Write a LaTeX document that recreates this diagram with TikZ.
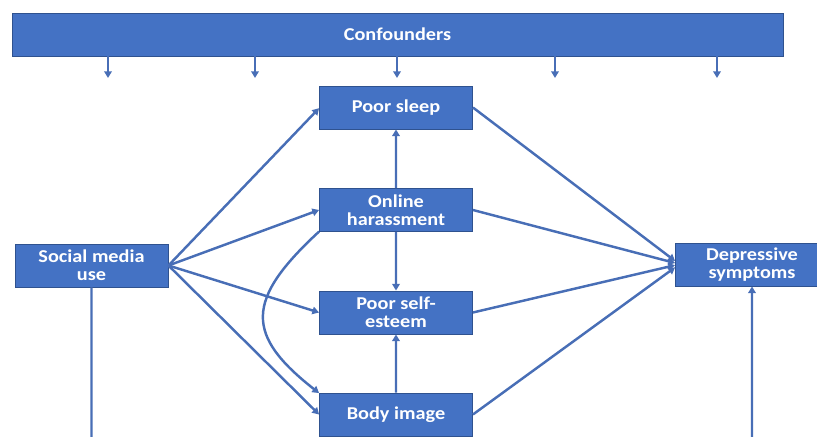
\documentclass[tikz,border=0pt]{standalone}
\usepackage{fontspec}
\setmainfont{Carlito}[FakeStretch=1.12]
\usetikzlibrary{arrows.meta}
\definecolor{boxblue}{RGB}{68,114,196}
\definecolor{boxedge}{RGB}{47,82,143}
\definecolor{linkblue}{RGB}{72,110,182}

\begin{document}
\begin{tikzpicture}[scale=0.2]
\tikzstyle{every node}+=[inner sep=0pt]
\tikzstyle{box}=[draw=boxedge, line width=0.5pt, fill=boxblue, text=white, align=center, minimum width=3.06cm, minimum height=0.86cm, font=\fontsize{10.3}{10.4}\selectfont\bfseries]
\tikzstyle{link}=[linkblue, line width=1.4pt, -{Triangle[length=3.8pt,width=4.3pt]}]
\useasboundingbox (0,0) rectangle (81.7,-43.7);
\draw (39.75,-3.45) node [box, minimum width=15.42cm] (conf) {Confounders};
\draw (9.15,-26.55) node [box] (smu) {Social media\\use};
\draw (39.6,-10.75) node [box] (ps) {Poor sleep};
\draw (39.6,-21) node [box] (oh) {Online\\harassment};
\draw (39.6,-31.25) node [box] (se) {Poor self-\\esteem};
\draw (39.6,-41.45) node [box] (bi) {Body image};
\draw (75.2,-26.45) node [box] (dep) {Depressive\\symptoms};
\foreach \x [count=\i] in {10.8,25.5,39.7,55.5,71.7} {
  \coordinate (c\i) at (\x,-7.8);
  \draw [link] (conf.south -| c\i) -- (c\i);
}
\draw [link] (smu.east) -- ([yshift=-2pt]ps.west);
\draw [link] (smu.east) -- (oh.west);
\draw [link] (smu.east) -- (se.west);
\draw [link] (smu.east) -- (bi.west);
\draw [link] (oh) -- (ps);
\draw [link] (oh) -- (se);
\draw [link] (bi) -- (se);
\draw [link] ([yshift=1pt]oh.south west) .. controls (24.5,-30) and (24.5,-33.5) .. ([yshift=-1.5pt]bi.north west);
\draw [link] (ps.east) -- ([yshift=10pt]dep.west);
\draw [link] (oh.east) -- ([yshift=4.3pt]dep.west);
\draw [link] (se.east) -- ([yshift=-2pt]dep.west);
\draw [link] (bi.east) -- ([yshift=-8.2pt]dep.west);
\coordinate (smubot) at (smu.south |- 0,-44.5);
\coordinate (depbot) at (dep.south |- 0,-44.5);
\draw [link, -] (smu.south) -- (smubot);
\draw [link] (depbot) -- (dep.south);
\end{tikzpicture}
\end{document}
